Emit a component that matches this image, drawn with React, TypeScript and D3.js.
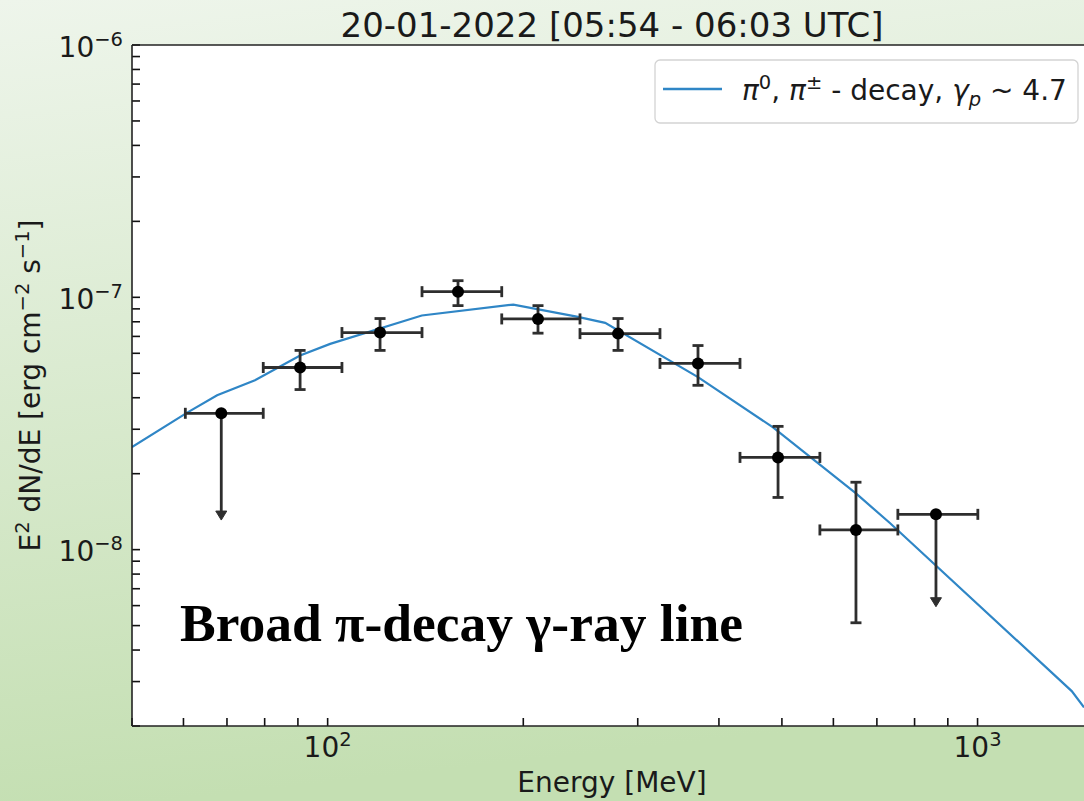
import React from 'react';
import * as d3 from 'd3';

// ---- data ----
const energy = [68.6, 90.7, 120.4, 158.7, 210.7, 279.8, 371.4, 493.2, 650, 863];
const energyLow = [60.4, 79.6, 105.2, 139.7, 185.3, 244.5, 324.6, 431, 572, 754];
const energyHigh = [79.6, 105.2, 139.7, 185.3, 244.5, 324.6, 431, 572, 754, 1001];
const flux = [3.47e-8, 5.27e-8, 7.25e-8, 1.053e-7, 8.21e-8, 7.18e-8, 5.47e-8, 2.32e-8, 1.197e-8, 1.38e-8];
const fluxLow = [1.31e-8, 4.31e-8, 6.16e-8, 9.27e-8, 7.21e-8, 6.16e-8, 4.48e-8, 1.61e-8, 5.13e-9, 5.94e-9];
const fluxHigh = [3.47e-8, 6.16e-8, 8.24e-8, 1.164e-7, 9.27e-8, 8.24e-8, 6.44e-8, 3.08e-8, 1.85e-8, 1.38e-8];
const isUpperLimit = [true, false, false, false, false, false, false, false, false, true];

const modelEnergy = [50.0, 60.8, 67.6, 77.3, 90.7, 100.9, 139.6, 193.1, 241.7, 267.3, 371.4, 484.5, 650, 733, 1396, 1458];
const modelFlux = [2.55e-8, 3.49e-8, 4.09e-8, 4.69e-8, 5.88e-8, 6.54e-8, 8.47e-8, 9.36e-8, 8.39e-8, 7.92e-8, 4.83e-8, 3.05e-8, 1.67e-8, 1.275e-8, 2.75e-9, 2.37e-9];

const xMajorTicks = [100, 1000];
const xMajorExp = ['2', '3'];
const yMajorTicks = [1e-6, 1e-7, 1e-8];
const yMajorExp = ['−6', '−7', '−8'];

const titleText = '20-01-2022 [05:54 - 06:03 UTC]';
const xLabel = 'Energy [MeV]';
const annotation = 'Broad π-decay γ-ray line';

const W = 1084;
const H = 801;
const left = 132;
const right = 1092;
const top = 45;
const bottom = 726;

const FONT = 'DejaVu Sans, sans-serif';
const LINE_COLOR = '#2f86c6';
const ERR_COLOR = '#2e2e2e';
const FS = 28;
const SUP = 19.5;

export default function App() {
  const x = d3.scaleLog().domain([50, 1500]).range([left, right]);
  const y = d3.scaleLog().domain([2e-9, 1e-6]).range([bottom, top]);

  const xMinor: number[] = [];
  for (const dec of [10, 100, 1000]) {
    for (let k = 2; k <= 9; k++) {
      const v = dec * k;
      if (v >= 50 && v <= 1500) xMinor.push(v);
    }
  }
  const yMinor: number[] = [];
  for (const dec of [1e-9, 1e-8, 1e-7]) {
    for (let k = 2; k <= 9; k++) {
      const v = dec * k;
      if (v >= 2e-9 * 0.999 && v <= 1e-6) yMinor.push(v);
    }
  }

  const line = d3
    .line<number>()
    .x((_, i) => x(modelEnergy[i]))
    .y((_, i) => y(modelFlux[i]));
  const modelPath = line(modelEnergy) || '';

  const tickLen = 8;
  const capHalf = 5.5;

  return (
    <svg
      width={W}
      height={H}
      style={{ position: 'fixed', left: 0, top: 0, display: 'block' }}
      xmlns="http://www.w3.org/2000/svg"
    >
      <defs>
        <linearGradient id="bg" x1="0" y1="0" x2="0.15" y2="1">
          <stop offset="0" stopColor="#eef5eb" />
          <stop offset="1" stopColor="#c4dfb2" />
        </linearGradient>
        <clipPath id="plotclip">
          <rect x={left} y={top} width={right - left} height={bottom - top} />
        </clipPath>
      </defs>
      <rect x={0} y={0} width={W} height={H} fill="url(#bg)" />
      <rect x={left} y={top} width={right - left} height={bottom - top} fill="#ffffff" />

      {/* ticks */}
      <g stroke="#111" strokeWidth={1.6}>
        {xMinor.map((v) => (
          <line key={'xm' + v} x1={x(v)} x2={x(v)} y1={bottom} y2={bottom - tickLen} />
        ))}
        {xMajorTicks.map((v) => (
          <line key={'xM' + v} x1={x(v)} x2={x(v)} y1={bottom} y2={bottom - tickLen} />
        ))}
        {yMinor.map((v) => (
          <line key={'ym' + v} x1={left} x2={left + tickLen} y1={y(v)} y2={y(v)} />
        ))}
        {yMajorTicks.map((v) => (
          <line key={'yM' + v} x1={left} x2={left + tickLen} y1={y(v)} y2={y(v)} />
        ))}
      </g>

      {/* model curve */}
      <g clipPath="url(#plotclip)">
        <path d={modelPath} fill="none" stroke={LINE_COLOR} strokeWidth={2.2} />
      </g>

      {/* data points */}
      <g stroke={ERR_COLOR} strokeWidth={2.8} fill="none">
        {energy.map((e, i) => {
          const cx = x(e);
          const cy = y(flux[i]);
          const xl = x(energyLow[i]);
          const xh = x(energyHigh[i]);
          const parts: React.ReactNode[] = [];
          parts.push(<line key="h" x1={xl} x2={xh} y1={cy} y2={cy} />);
          parts.push(<line key="hc1" x1={xl} x2={xl} y1={cy - capHalf} y2={cy + capHalf} />);
          parts.push(<line key="hc2" x1={xh} x2={xh} y1={cy - capHalf} y2={cy + capHalf} />);
          if (isUpperLimit[i]) {
            const ty = y(fluxLow[i]);
            parts.push(<line key="v" x1={cx} x2={cx} y1={cy} y2={ty - 6} />);
            parts.push(
              <path
                key="arrow"
                d={`M${cx - 5.5},${ty - 9} L${cx + 5.5},${ty - 9} L${cx},${ty} Z`}
                fill={ERR_COLOR}
                stroke={ERR_COLOR}
                strokeWidth={1}
              />
            );
          } else {
            const yt = y(fluxHigh[i]);
            const yb = y(fluxLow[i]);
            parts.push(<line key="v" x1={cx} x2={cx} y1={yt} y2={yb} />);
            parts.push(<line key="vc1" x1={cx - capHalf} x2={cx + capHalf} y1={yt} y2={yt} />);
            parts.push(<line key="vc2" x1={cx - capHalf} x2={cx + capHalf} y1={yb} y2={yb} />);
          }
          return <g key={'pt' + i}>{parts}</g>;
        })}
        {energy.map((e, i) => (
          <circle key={'c' + i} cx={x(e)} cy={y(flux[i])} r={6} fill="#000" stroke="none" />
        ))}
      </g>

      {/* spines */}
      <g stroke="#222" strokeWidth={1.6}>
        <line x1={left} x2={right} y1={top} y2={top} />
        <line x1={left} x2={right} y1={bottom} y2={bottom} />
        <line x1={left} x2={left} y1={top} y2={bottom} />
        <line x1={right} x2={right} y1={top} y2={bottom} />
      </g>

      {/* tick labels */}
      <g fontFamily={FONT} fill="#1a1a1a">
        {xMajorTicks.map((v, i) => (
          <text key={'xl' + v} x={x(v)} y={bottom + 31} textAnchor="middle" fontSize={FS}>
            10
            <tspan fontSize={SUP} dy={-11}>
              {xMajorExp[i]}
            </tspan>
          </text>
        ))}
        {yMajorTicks.map((v, i) => (
          <text key={'yl' + v} x={123} y={y(v) + 11.5} textAnchor="end" fontSize={FS}>
            10
            <tspan fontSize={SUP} dy={-11}>
              {yMajorExp[i]}
            </tspan>
          </text>
        ))}
      </g>

      {/* axis labels */}
      <text x={612} y={792} textAnchor="middle" fontFamily={FONT} fontSize={FS} fill="#1a1a1a">
        {xLabel}
      </text>
      <text
        transform={`translate(40,${(top + bottom) / 2}) rotate(-90)`}
        textAnchor="middle"
        fontFamily={FONT}
        fontSize={FS}
        fill="#1a1a1a"
      >
        E<tspan fontSize={SUP} dy={-11}>2</tspan>
        <tspan dy={11}> dN/dE [erg cm</tspan>
        <tspan fontSize={SUP} dy={-11}>−2</tspan>
        <tspan dy={11}> s</tspan>
        <tspan fontSize={SUP} dy={-11}>−1</tspan>
        <tspan dy={11}>]</tspan>
      </text>

      {/* title */}
      <text
        x={(left + right) / 2}
        y={37}
        textAnchor="middle"
        fontFamily={FONT}
        fontSize={34}
        fill="#1a1a1a"
      >
        {titleText}
      </text>

      {/* legend */}
      <rect
        x={655}
        y={60}
        width={423}
        height={63}
        rx={5}
        ry={5}
        fill="#ffffff"
        fillOpacity={0.85}
        stroke="#d3d3d3"
        strokeWidth={1.3}
      />
      <line x1={663} x2={722} y1={89} y2={89} stroke={LINE_COLOR} strokeWidth={2.4} />
      <text x={742} y={100} fontFamily={FONT} fontSize={FS} fill="#1a1a1a">
        <tspan fontStyle="italic">π</tspan>
        <tspan fontSize={SUP} dy={-11}>0</tspan>
        <tspan dy={11}>, </tspan>
        <tspan fontStyle="italic">π</tspan>
        <tspan fontSize={SUP} dy={-11}>±</tspan>
        <tspan dy={11}> - decay, </tspan>
        <tspan fontStyle="italic">γ</tspan>
        <tspan fontSize={SUP} dy={6} fontStyle="italic">p</tspan>
        <tspan dy={-6}> ~ 4.7</tspan>
      </text>

      {/* annotation */}
      <text
        x={180}
        y={641}
        fontFamily="Liberation Serif, Times New Roman, serif"
        fontWeight="bold"
        fontSize={53.5}
        fill="#000"
      >
        {annotation}
      </text>
    </svg>
  );
}
